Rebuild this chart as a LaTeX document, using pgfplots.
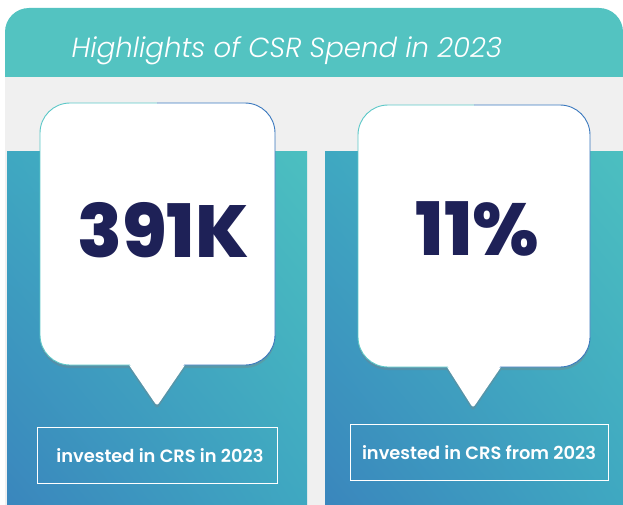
\documentclass[border=0pt]{standalone}
\usepackage{pgfplots}
\pgfplotsset{compat=1.18}
\usepackage{fontspec}
\setmainfont{Poppins}
\newfontfamily\titlefont{Poppins Light Italic}
\newfontfamily\numfont{Poppins ExtraBold}
\newfontfamily\labfont{Poppins SemiBold}
\usetikzlibrary{shadows,shadings}
\definecolor{header}{HTML}{53C3C1}
\definecolor{bg}{HTML}{F0F0F0}
\definecolor{navy}{HTML}{1E2157}
\definecolor{pTL}{HTML}{3FA8C1}
\definecolor{pTR}{HTML}{4CBFC0}
\definecolor{pBL}{HTML}{3A86BD}
\definecolor{pBR}{HTML}{3FA8C1}
\definecolor{bordL}{HTML}{5CC8C8}
\definecolor{bordR}{HTML}{3A78BE}
\begin{document}
\begin{tikzpicture}
\begin{axis}[
  scale only axis, width=623bp, height=505bp,
  xmin=0, xmax=623, ymin=0, ymax=505, y dir=reverse,
  hide axis, clip=true]
% page background (also fixes the bounding box)
\fill[white] (0,0) rectangle (623,505);
% header band
\fill[header] (5,77) {[rounded corners=24bp] -- (5,8) -- (623,8)} -- (623,77) -- cycle;
% grey body
\fill[bg] (5,77) rectangle (623,505);
% gradient panels
\shade[upper left=pTL, upper right=pTR, lower left=pBL, lower right=pBR] (7,151) rectangle (307,505);
\shade[upper left=pTL, upper right=pTR, lower left=pBL, lower right=pBR] (325,151) rectangle (623,505);
% bubbles
\fill[white, drop shadow={opacity=0.35, shadow xshift=0bp, shadow yshift=-3bp}]
  (129,365) [rounded corners=3bp] -- (157,406) [sharp corners] -- (185,365)
  [rounded corners=30bp] -- (275,365) -- (275,103) -- (40,103) -- (40,365) [sharp corners] -- cycle;
\begin{scope}
\clip (0,0) rectangle (157,505);
\draw[bordL, line width=0.9bp, rounded corners=30bp] (40,103) rectangle (275,365);
\end{scope}
\begin{scope}
\clip (157,0) rectangle (623,505);
\draw[bordR, line width=0.9bp, rounded corners=30bp] (40,103) rectangle (275,365);
\end{scope}
\fill[white] (129,363) -- (157,404) -- (185,363) -- cycle;
\fill[white, drop shadow={opacity=0.35, shadow xshift=0bp, shadow yshift=-3bp}]
  (447,367) [rounded corners=3bp] -- (473,408) [sharp corners] -- (501,367)
  [rounded corners=30bp] -- (590,367) -- (590,105) -- (358,105) -- (358,367) [sharp corners] -- cycle;
\begin{scope}
\clip (0,0) rectangle (474,505);
\draw[bordL, line width=0.9bp, rounded corners=30bp] (358,105) rectangle (590,367);
\end{scope}
\begin{scope}
\clip (474,0) rectangle (623,505);
\draw[bordR, line width=0.9bp, rounded corners=30bp] (358,105) rectangle (590,367);
\end{scope}
\fill[white] (447,365) -- (473,406) -- (501,365) -- cycle;
% label boxes
\draw[white, line width=0.8bp] (37,427) rectangle (277,483);
\draw[white, line width=0.8bp] (350,424) rectangle (608,480);
% texts
\node[white, anchor=base west, font=\titlefont\fontsize{27.7}{30}\selectfont, inner sep=0pt] at (71.5,58) {Highlights of CSR Spend in 2023};
\node[navy, anchor=base, font=\numfont\fontsize{74}{80}\selectfont, inner sep=0pt] at (163,257) {391K};
\node[navy, anchor=base, font=\numfont\fontsize{74}{80}\selectfont, inner sep=0pt] at (477.5,255) {11\%};
\node[white, anchor=base, font=\labfont\fontsize{17.9}{20}\selectfont, inner sep=0pt] at (160,462) {invested in CRS in 2023};
\node[white, anchor=base, font=\labfont\fontsize{17.9}{20}\selectfont, inner sep=0pt] at (479,459) {invested in CRS from 2023};
\end{axis}
\end{tikzpicture}
\end{document}
